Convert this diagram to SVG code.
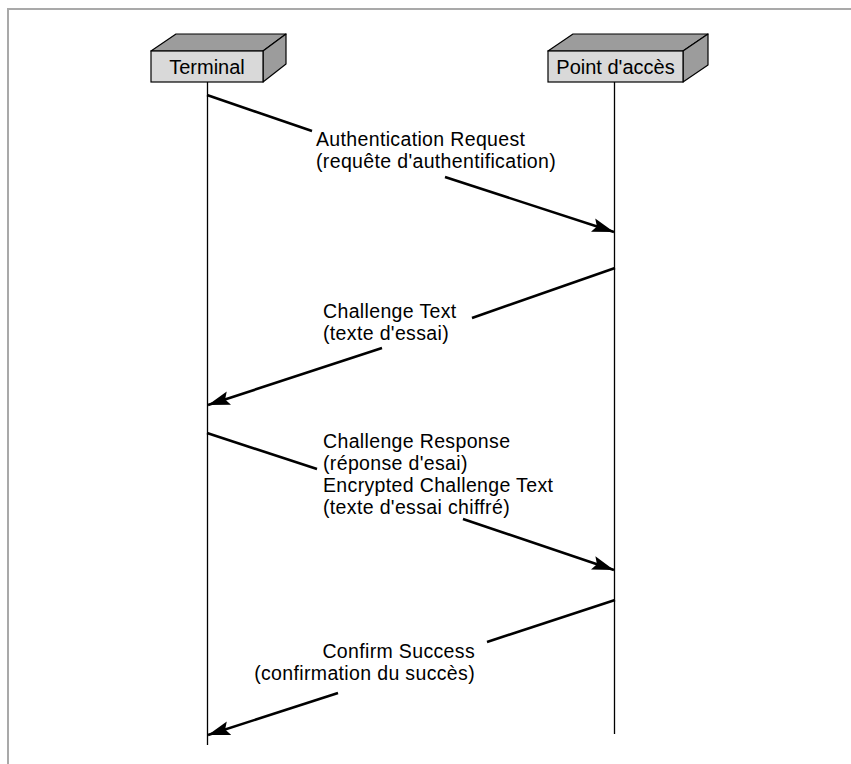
<svg xmlns="http://www.w3.org/2000/svg" width="851" height="764" viewBox="0 0 851 764">
  <style>
    .frame { stroke: #a9a9a9; stroke-width: 2; fill: none; }
    .front { fill: #d9d9d9; stroke: #000; stroke-width: 1.2; }
    .side { fill: #9c9c9c; stroke: #000; stroke-width: 1.2; stroke-linejoin: round; }
    .life { stroke: #000; stroke-width: 1.3; }
    .msg { stroke: #000; stroke-width: 2.6; fill: none; }
    text { font-family: "Liberation Sans", Arial, Helvetica, sans-serif; font-size: 20px; fill: #000; }
    .lbl { font-size: 19.5px; letter-spacing: 0.35px; }
  </style>
  <defs>
    <marker id="arrow" markerUnits="userSpaceOnUse" markerWidth="24" markerHeight="16" viewBox="0 0 24 16" refX="22" refY="8" orient="auto">
      <path d="M0,1 L22,8 L0,15 L4,8 Z" fill="#000"/>
    </marker>
  </defs>
  <rect width="851" height="764" fill="#fff"/>
  <path class="frame" d="M8,764 V9 H851"/>

  <g id="terminal">
    <polygon class="side" points="151,51 176,34 286,34 263,51"/>
    <polygon class="side" points="263,51 286,34 286,64 263,82"/>
    <rect class="front" x="151" y="51" width="112" height="31"/>
    <text x="207" y="74" text-anchor="middle">Terminal</text>
  </g>

  <g id="point-acces">
    <polygon class="side" points="548,51 573,34 708,34 683,51"/>
    <polygon class="side" points="683,51 708,34 708,65 683,82"/>
    <rect class="front" x="548" y="51" width="135" height="31"/>
    <text x="615.5" y="74" text-anchor="middle">Point d'accès</text>
  </g>

  <g id="lifelines">
    <line class="life" x1="207.5" y1="82" x2="207.5" y2="745"/>
    <line class="life" x1="614.5" y1="82" x2="614.5" y2="734"/>
  </g>

  <g id="connectors">
    <line class="msg" x1="207" y1="95" x2="312" y2="131"/>
    <line class="msg" x1="445" y1="177" x2="614" y2="232" marker-end="url(#arrow)"/>
    <line class="msg" x1="615" y1="268" x2="472" y2="318"/>
    <line class="msg" x1="382" y1="348" x2="208" y2="405" marker-end="url(#arrow)"/>
    <line class="msg" x1="207" y1="433" x2="317" y2="469"/>
    <line class="msg" x1="463" y1="519" x2="614" y2="570" marker-end="url(#arrow)"/>
    <line class="msg" x1="615" y1="600" x2="487" y2="642"/>
    <line class="msg" x1="338" y1="693" x2="208" y2="735" marker-end="url(#arrow)"/>
  </g>

  <g id="label-1" class="lbl">
    <text class="lbl" x="316" y="146">Authentication Request</text>
    <text class="lbl" x="316" y="168">(requête d'authentification)</text>
  </g>
  <g id="label-2">
    <text class="lbl" x="323" y="318">Challenge Text</text>
    <text class="lbl" x="323" y="340">(texte d'essai)</text>
  </g>
  <g id="label-3">
    <text class="lbl" x="323" y="447.5">Challenge Response</text>
    <text class="lbl" x="323" y="469.5">(réponse d'esai)</text>
    <text class="lbl" x="323" y="491.5">Encrypted Challenge Text</text>
    <text class="lbl" x="323" y="513.5">(texte d'essai chiffré)</text>
  </g>
  <g id="label-4">
    <text class="lbl" x="475" y="658" text-anchor="end">Confirm Success</text>
    <text class="lbl" x="475" y="680" text-anchor="end">(confirmation du succès)</text>
  </g>
</svg>
